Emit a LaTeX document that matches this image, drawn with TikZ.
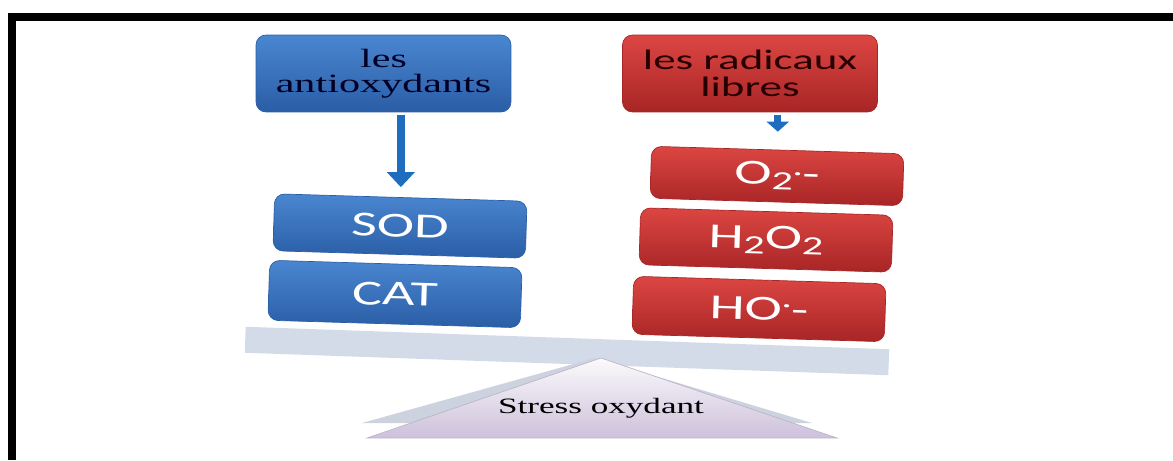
\documentclass[tikz,border=0pt]{standalone}
\usepackage{fontspec}
\setmainfont{Liberation Serif}
\newfontfamily\boxfont{Carlito}
\usepackage{graphicx}
\definecolor{myblue}{HTML}{4A86D0}
\definecolor{mybluedark}{HTML}{2A5EA6}
\definecolor{myred}{HTML}{DC4642}
\definecolor{myreddark}{HTML}{A82526}
\definecolor{mybeam}{HTML}{D3DBE8}
\definecolor{myshadow}{HTML}{CDD3DE}
\definecolor{mylilac}{HTML}{CDC1DB}
\definecolor{myarrow}{HTML}{1F6DBF}
\usepackage{tikz}
\usetikzlibrary{
  positioning, calc, shapes.geometric, arrows.meta
}
\newcommand{\wide}[1]{\scalebox{1.6}[1]{#1}}
\newcommand{\sub}[1]{\raisebox{-0.14em}{\fontsize{15}{15}\selectfont #1}}
\newcommand{\rdot}[1]{\raisebox{#1}{\fontsize{13}{13}\selectfont ·}}
\tikzset{
	headnode/.style={
			rectangle,
			rounded corners=2mm,
			minimum width=5.1cm,
			minimum height=1.54cm,
			inner sep=0pt,
			align=center
		},
	antinode/.style={
			headnode,
			draw=mybluedark,
			top color=myblue,
			bottom color=mybluedark,
			font=\fontsize{15}{14}\selectfont,
			text=black!85!blue
		},
	radnode/.style={
			headnode,
			draw=myreddark,
			top color=myred,
			bottom color=myreddark,
			font=\boxfont\fontsize{16}{15}\selectfont,
			text=black!85!red
		},
	molnode/.style={
			rectangle,
			rounded corners=2mm,
			minimum width=5.05cm,
			inner sep=0pt,
			rotate=-1.7,
			text=white,
			font=\boxfont\fontsize{20}{20}\selectfont
		},
	enzymenode/.style={
			molnode,
			draw=mybluedark,
			top color=myblue,
			bottom color=mybluedark
		},
	radicalnode/.style={
			molnode,
			draw=myreddark,
			top color=myred,
			bottom color=myreddark
		},
	plankstyle/.style={
			rectangle,
			fill=mybeam,
			minimum width=12.88cm,
			minimum height=0.52cm,
			inner sep=0pt,
			rotate=-2
		},
	downarrow/.style={
			draw=myarrow,
			line width=0.17cm,
			-{Triangle[width=0.54cm,length=0.3cm]}
		}
}

\begin{document}
\begin{tikzpicture}[x=0.02cm, y=-0.02cm]
				\useasboundingbox (0,0) rectangle (1173,460);
				\draw[line width=0.16cm] (12,460) -- (12,17) -- (1173,17);
				\node[plankstyle] at (567,351) (plank) {};
				\fill[myshadow] (362,423) -- (595,358) -- (812,423) -- cycle;
				\shade[top color=white!92!mylilac, bottom color=mylilac, draw=mylilac!80!gray, line width=0.4pt] (601,358) -- (837,438) -- (367,438) -- cycle;
				\node at (601,408) (stress) {\fontsize{12.5}{12.5}\selectfont\wide{Stress oxydant}};
				\node[antinode] at (383.5,73.5) (antiox) {\wide{les}\\\wide{antioxydants}};
				\node[radnode] at (750,73.5) (radicaux) {\wide{les radicaux}\\\wide{libres}};
				\node[enzymenode, minimum height=1.14cm] at (400,226) (sod) {\wide{SOD}};
				\node[enzymenode, minimum height=1.2cm] at (395,294) (cat) {\wide{CAT}};
				\node[radicalnode, minimum height=1.04cm] at (777,176) (superox) {\wide{O\sub{2}\rdot{0.15em}-}};
				\node[radicalnode, minimum height=1.14cm] at (766,240) (peroxide) {\wide{H\sub{2}O\sub{2}}};
				\node[radicalnode, minimum height=1.16cm] at (759,309) (hydroxyl) {\wide{HO\rdot{0.24em}-}};
				\draw[downarrow, shorten <=0.06cm, shorten >=0.2cm] (antiox.south -| sod.north) -- (sod.north);
				\draw[downarrow, line width=0.14cm, -{Triangle[width=0.44cm,length=0.2cm]}, shorten <=0.06cm, shorten >=0.36cm] (radicaux.south -| superox.north) -- (superox.north);
			\end{tikzpicture}
\end{document}
